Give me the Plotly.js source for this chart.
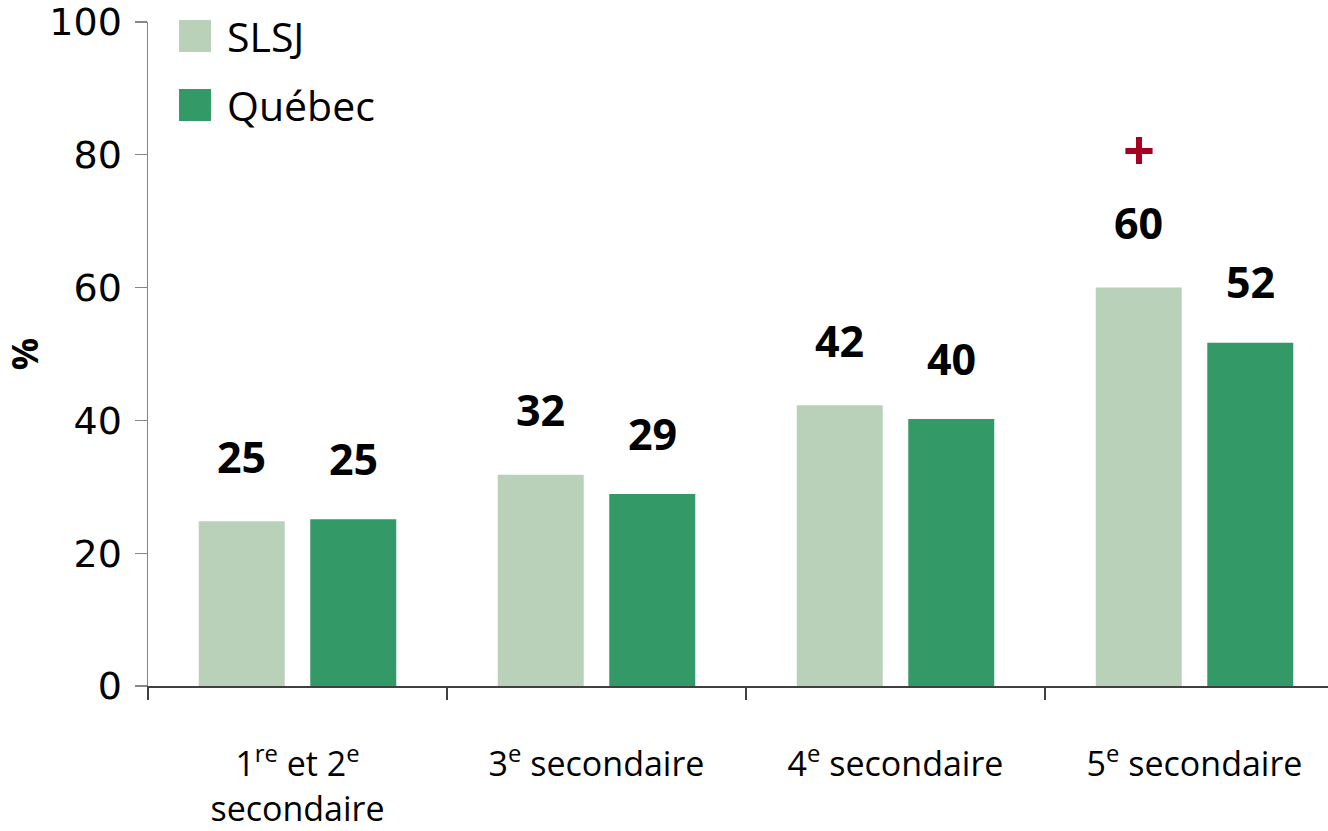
<!DOCTYPE html>
<html>
<head>
<meta charset="utf-8">
<script src="https://cdn.plot.ly/plotly-3.0.1.min.js"></script>
<style>html,body{margin:0;padding:0;background:#fff;}#chart{width:1328px;height:831px;}</style>
</head>
<body>
<div id="chart"></div>
<script>
const categories = ["1<sup>re</sup> et 2<sup>e</sup><br>secondaire", "3<sup>e</sup> secondaire", "4<sup>e</sup> secondaire", "5<sup>e</sup> secondaire"];
const seriesNames = ["SLSJ", "Québec"];
const slsj = [24.8, 31.8, 42.3, 60.0];
const quebec = [25.1, 28.9, 40.2, 51.7];
const significant = [false, false, false, true]; // "+" marker on SLSJ
const yTicks = [0, 20, 40, 60, 80, 100];

const colors = ["#b9d0b9", "#339966"];
const font = "Open Sans, Lato, sans-serif";
const idx = categories.map((c, i) => i);
const off = 55.75 / 299;

const traces = [
  {type: "bar", name: seriesNames[0], x: idx, y: slsj, marker: {color: colors[0]}, showlegend: false, hoverinfo: "y"},
  {type: "bar", name: seriesNames[1], x: idx, y: quebec, marker: {color: colors[1]}, showlegend: false, hoverinfo: "y"}
];

const annotations = [];
const labelFont = {family: font, size: 43, color: "#000", weight: 700};
slsj.forEach((v, i) => annotations.push({x: i - off, y: v, xref: "x", yref: "y", text: "<b>" + Math.round(v) + "</b>", showarrow: false, yshift: 65, font: labelFont}));
quebec.forEach((v, i) => annotations.push({x: i + off, y: v, xref: "x", yref: "y", text: "<b>" + Math.round(v) + "</b>", showarrow: false, yshift: 61, font: labelFont}));
significant.forEach((s, i) => { if (s) annotations.push({x: i - off, y: slsj[i], xref: "x", yref: "y", text: "<b>+</b>", showarrow: false, yshift: 140, font: {family: font, size: 56, color: "#a50021"}}); });

// manual legend
const legY = [0.979, 0.875];
const shapes = [];
seriesNames.forEach((n, k) => {
  shapes.push({type: "rect", xref: "paper", yref: "paper", x0: 0.0263, x1: 0.0534, y0: legY[k] - 0.0241, y1: legY[k] + 0.0241, fillcolor: colors[k], line: {width: 0}});
  annotations.push({xref: "paper", yref: "paper", x: 0.0653, y: legY[k], xanchor: "left", yanchor: "middle", text: n, showarrow: false, font: {family: font, size: 41, color: "#000"}});
});

const layout = {
  width: 1328, height: 831,
  margin: {l: 148, r: 0, t: 22, b: 145},
  paper_bgcolor: "#fff", plot_bgcolor: "#fff",
  barmode: "group", bargap: 0.254, bargroupgap: 0.229,
  font: {family: font, color: "#000"},
  xaxis: {
    type: "linear", range: [-0.5, -0.5 + 1180 / 299], fixedrange: true,
    tickvals: idx, ticktext: categories, ticks: "", ticklabelstandoff: 48,
    tickfont: {family: font, size: 34, color: "#000"},
    showgrid: false, zeroline: false, showline: true, linecolor: "#404040", linewidth: 1.5,
    minor: {tickvals: [-0.5, 0.5, 1.5, 2.5], ticks: "outside", ticklen: 12, tickwidth: 1.2, tickcolor: "#404040", showgrid: false}
  },
  yaxis: {
    range: [0, 100], tickvals: yTicks, ticks: "outside", ticklen: 12, tickwidth: 1.2, tickcolor: "#868686",
    tickfont: {family: "DejaVu Sans", size: 38, color: "#000"}, ticklabelstandoff: 5,
    showgrid: false, zeroline: false, showline: true, linecolor: "#868686", linewidth: 1.5,
    title: {text: "<b>%</b>", font: {family: font, size: 36, color: "#000"}, standoff: 8}
  },
  shapes: shapes,
  annotations: annotations
};

Plotly.newPlot("chart", traces, layout, {displayModeBar: false, staticPlot: true});
</script>
</body>
</html>
